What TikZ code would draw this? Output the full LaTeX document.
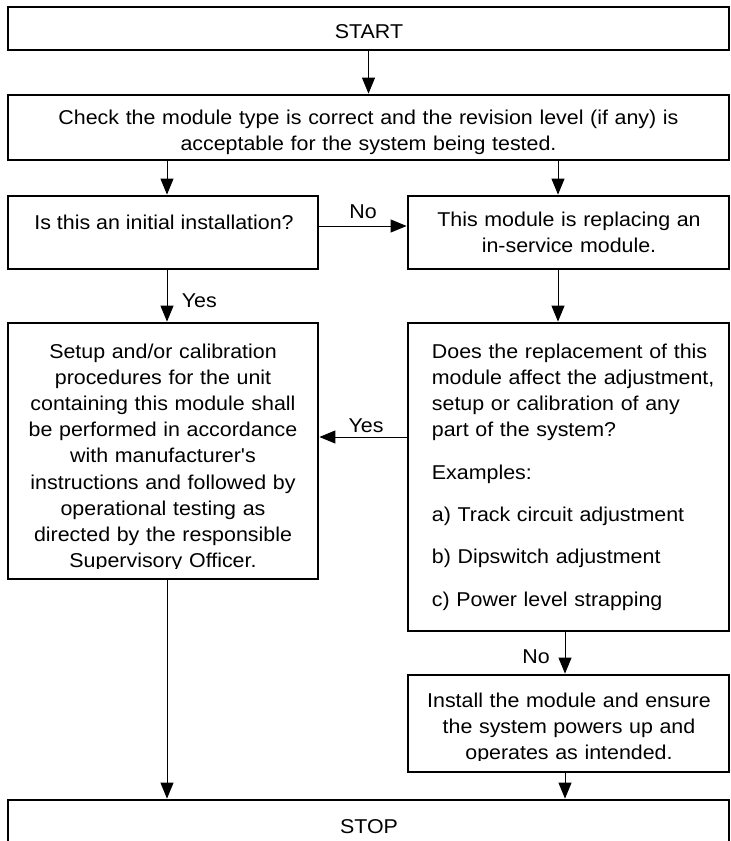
\documentclass[tikz,border=0pt]{standalone}
\usepackage{fontspec}
\setmainfont{Liberation Sans}[FakeStretch=1.07, Ligatures=TeXOff]
\usetikzlibrary{arrows.meta}

\begin{document}
\begin{tikzpicture}[x=1pt, y=-1pt,
  frame/.style={draw, line width=2.8pt, inner sep=0pt, rectangle},
  txt/.style={inner sep=0pt, font=\fontsize{20}{26.2}\selectfont},
  flow/.style={line width=0.9pt, -{Triangle[length=16pt,width=13pt]}}]

\useasboundingbox (0,0) rectangle (731,841);

% frames of the boxes
\node[frame, minimum width=721pt, minimum height=43pt]  (start)   at (368.5, 28.5) {};
\node[frame, minimum width=721pt, minimum height=65pt]  (check)   at (368.5,127.5) {};
\node[frame, minimum width=310pt, minimum height=73pt]  (q1)      at (163,232.5) {};
\node[frame, minimum width=321pt, minimum height=73pt]  (repl)    at (568.5,232.5) {};
\node[frame, minimum width=310pt, minimum height=256pt] (setup)   at (163,451) {};
\node[frame, minimum width=321pt, minimum height=308pt] (decide)  at (568.5,477) {};
\node[frame, minimum width=321pt, minimum height=97pt]  (install) at (568.5,723.5) {};
\node[frame, minimum width=721pt, minimum height=52pt]  (stop)    at (368.5,826) {};

% texts of the boxes
\node[txt, anchor=base] (startT) at (369,38) {START};
\node[txt, anchor=base, text width=700pt, align=center] (checkT) at (368.5,124)
  {Check the module type is correct and the revision level (if any) is\\acceptable for the system being tested.};
\node[txt, anchor=base] (q1T) at (164,229) {Is this an initial installation?};
\node[txt, anchor=base, text width=300pt, align=center] (replT) at (569,226)
  {This module is replacing an\\in-service module.};
\node[txt, anchor=base west, text width=295pt, align=left] (decideT) at (431.7,358)
  {Does the replacement of this\\module affect the adjustment,\\setup or calibration of any\\part of the system?\\[16.2pt]
   Examples:\\[16.2pt]a) Track circuit adjustment\\[16.2pt]b) Dipswitch adjustment\\[16.2pt]c) Power level strapping};
\node[txt, anchor=base] (stopT) at (369,833) {STOP};

% the last lines of these two texts run into the bottom of their boxes
\begin{scope}[even odd rule]
  \clip (0,0) rectangle (731,841)
        (10,568.5) rectangle (316,577.5)
        (410,760.5) rectangle (727,770.5);
  \node[txt, anchor=base, text width=300pt, align=center] (setupT) at (163,358)
    {Setup and/or calibration\\procedures for the unit\\containing this module shall\\be performed in accordance\\with manufacturer's\\instructions and followed by\\operational testing as\\directed by the responsible\\Supervisory Officer.};
  \node[txt, anchor=base, text width=300pt, align=center] (installT) at (569,707)
    {Install the module and ensure\\the system powers up and\\operates as intended.};
\end{scope}

% columns and rows of the connectors
\coordinate (colL)  at (167,0);
\coordinate (colR)  at (558,0);
\coordinate (colR2) at (565,0);
\coordinate (rowNo)  at (0,226);
\coordinate (rowYes) at (0,437);

\draw[flow] (start) -- (check);
\draw[flow] (check.south -| colL) -- (q1.north -| colL);
\draw[flow] (check.south -| colR) -- (repl.north -| colR);
\draw[flow] (q1.east |- rowNo) -- (repl.west |- rowNo);
\draw[flow] (q1.south -| colL) -- (setup.north -| colL);
\draw[flow] (repl.south -| colR) -- (decide.north -| colR);
\draw[flow] (decide.west |- rowYes) -- (setup.east |- rowYes);
\draw[flow] (decide.south -| colR2) -- (install.north -| colR2);
\draw[flow] (install.south -| colR2) -- (stop.north -| colR2);
\draw[flow] (setup.south -| colL) -- (stop.north -| colL);

% branch labels
\node[txt, anchor=base] (noA) at (363,218) {No};
\node[txt, anchor=base west] (yesA) at (181.7,307.7) {Yes};
\node[txt, anchor=base] (yesB) at (366,432) {Yes};
\node[txt, anchor=base] (noB) at (536,663) {No};

\end{tikzpicture}
\end{document}
